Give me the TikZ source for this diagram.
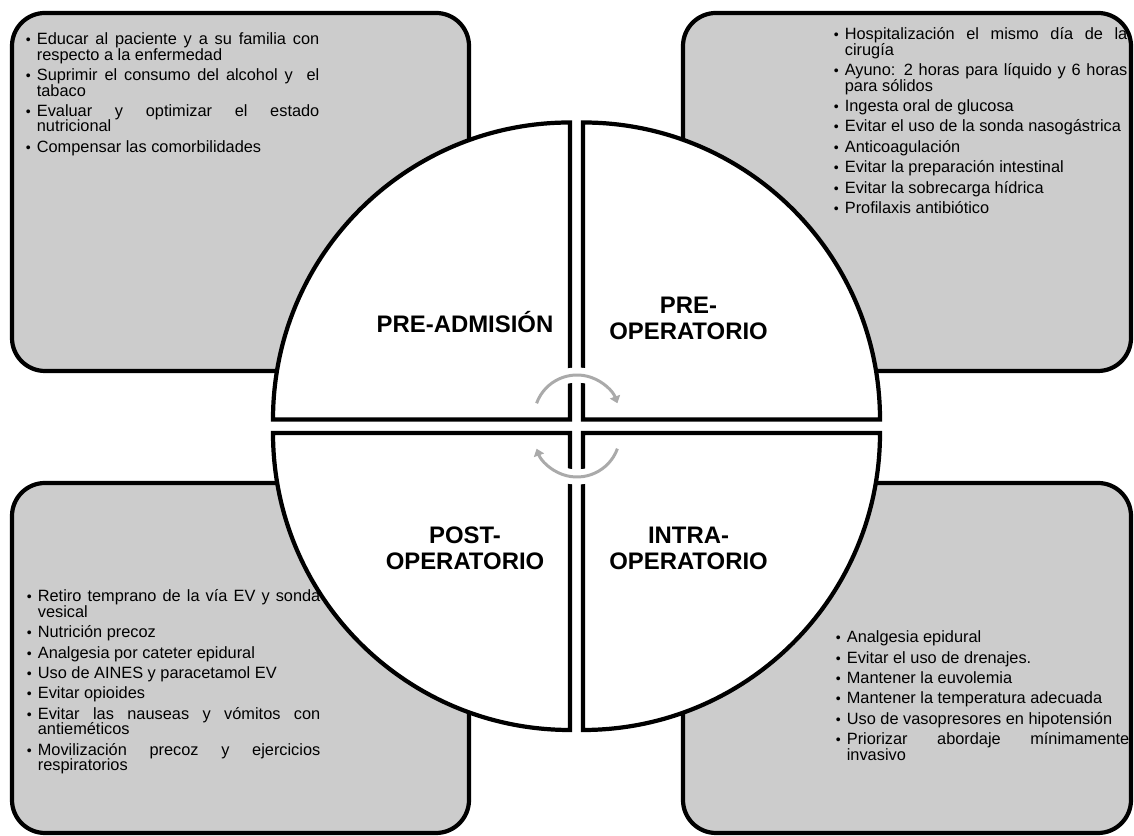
\documentclass[tikz,border=0pt]{standalone}
\usepackage{fontspec}
\setmainfont{Liberation Sans}
\usepackage{enumitem}
\usepackage{tikz}
\usetikzlibrary{arrows.meta}

\definecolor{panelgray}{RGB}{204,204,204}
\definecolor{arrowgray}{RGB}{170,170,170}

\setlist[itemize]{label={\footnotesize\textbullet}, leftmargin=0.23cm, labelsep=0.12cm,
	topsep=0pt, partopsep=0pt, parsep=0pt, itemsep=2.8pt}
\sloppy
\hyphenpenalty=10000
\exhyphenpenalty=10000

\begin{document}
\begin{tikzpicture}[
					panel/.style={draw, line width=2.4pt, fill=panelgray, rounded corners=0.66cm},
					quarter/.style={draw, line width=2.4pt, fill=white},
					phase/.style={font=\fontsize{13.6}{14.7}\selectfont\bfseries, align=center},
					notes/.style={anchor=north west, inner sep=0pt, text width=5.88cm,
						align=justify, font=\fontsize{9.3}{8.8}\selectfont},
					turn/.style={draw=arrowgray, line width=1.7pt, -{Triangle[length=4pt, width=6pt]}},
					halo/.style={draw=white, line width=0.3cm}]

	\useasboundingbox (0,0) rectangle (22.68,16.72);

	\node[panel, minimum width=9.14cm, minimum height=7.16cm] (boxA) at (4.81,12.88) {};
	\node[panel, minimum width=8.96cm, minimum height=7.16cm] (boxB) at (18.14,12.88) {};
	\node[panel, minimum width=9.14cm, minimum height=7.00cm] (boxD) at (4.81,3.56) {};
	\node[panel, minimum width=8.96cm, minimum height=7.00cm] (boxC) at (18.14,3.56) {};

	\draw[quarter] (11.40,8.33) -- (5.46,8.33) arc (180:90:5.94) -- cycle;
	\draw[quarter] (11.66,8.33) -- (17.60,8.33) arc (0:90:5.94) -- cycle;
	\draw[quarter] (11.40,8.06) -- (5.46,8.06) arc (180:270:5.94) -- cycle;
	\draw[quarter] (11.66,8.06) -- (17.60,8.06) arc (0:-90:5.94) -- cycle;

	\draw[halo] (11.54,8.36) ++(130:0.86) arc (130:50:0.86);
	\draw[halo] (11.54,8.04) ++(-50:0.86) arc (-50:-130:0.86);
	\draw[turn] (11.54,8.36) ++(160:0.86) arc (160:20:0.86);
	\draw[turn] (11.54,8.04) ++(-20:0.86) arc (-20:-160:0.86);

	\node[phase] (preadm) at (9.30,10.28) {PRE-ADMISIÓN};
	\node[phase] (preop) at (13.77,10.35) {PRE-\\OPERATORIO};
	\node[phase] (postop) at (9.30,5.75) {POST-\\OPERATORIO};
	\node[phase] (intraop) at (13.77,5.75) {INTRA-\\OPERATORIO};

	\node[notes] (preadmNotes) at (0.50,16.14) {
		\begin{itemize}
			\item Educar al paciente y a su familia con\linebreak respecto a la enfermedad
			\item Suprimir el consumo del alcohol y \ el\linebreak tabaco
			\item Evaluar y optimizar el estado\linebreak nutricional
			\item Compensar las comorbilidades
		\end{itemize}};
	\node[notes] (preopNotes) at (16.66,16.24) {
		\begin{itemize}
			\item Hospitalización el mismo día de la\linebreak cirugía
			\item Ayuno: 2 horas para líquido y 6 horas\linebreak para sólidos
			\item Ingesta oral de glucosa
			\item Evitar el uso de la sonda nasogástrica
			\item Anticoagulación
			\item Evitar la preparación intestinal
			\item Evitar la sobrecarga hídrica
			\item Profilaxis antibiótico
		\end{itemize}};
	\node[notes] (postopNotes) at (0.52,5.00) {
		\begin{itemize}
			\item Retiro temprano de la vía EV y sonda\linebreak vesical
			\item Nutrición precoz
			\item Analgesia por cateter epidural
			\item Uso de AINES y paracetamol EV
			\item Evitar opioides
			\item Evitar las nauseas y vómitos con\linebreak antieméticos
			\item Movilización precoz y ejercicios\linebreak respiratorios
		\end{itemize}};
	\node[notes] (intraopNotes) at (16.70,4.18) {
		\begin{itemize}
			\item Analgesia epidural
			\item Evitar el uso de drenajes.
			\item Mantener la euvolemia
			\item Mantener la temperatura adecuada
			\item Uso de vasopresores en hipotensión
			\item Priorizar abordaje mínimamente\linebreak invasivo
		\end{itemize}};
\end{tikzpicture}
\end{document}
